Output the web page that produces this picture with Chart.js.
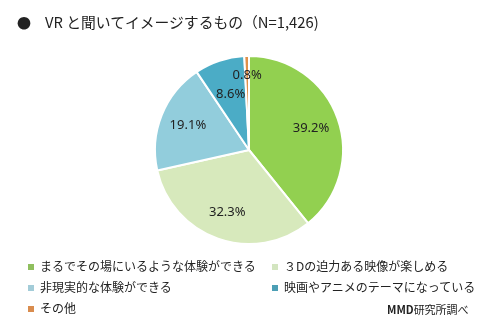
<!DOCTYPE html>
<html>
<head>
<meta charset="utf-8">
<script src="https://cdn.jsdelivr.net/npm/chart.js@4/dist/chart.umd.min.js"></script>
<style>
  body { margin: 0; background: #fff; }
  #wrap { position: relative; width: 487px; height: 328px; overflow: hidden;
          font-family: "Noto Sans CJK JP", "Noto Sans", sans-serif; color: #222; }
  #title { position: absolute; left: 17px; top: 11px; font-size: 14.8px; white-space: nowrap; }
  #title .dot { display: inline-block; width: 28px; font-size: 14px; }
  .leg { position: absolute; font-size: 12px; white-space: nowrap; line-height: 16px; }
  .leg i { display: inline-block; width: 6px; height: 6px; margin-right: 6px; vertical-align: 1px; }
  #src { position: absolute; left: 387px; top: 301px; font-size: 11px; white-space: nowrap; }
</style>
</head>
<body>
<div id="wrap">
  <canvas id="myChart" width="487" height="328"></canvas>
  <div id="title"><span class="dot">●</span>VR と聞いてイメージするもの（N=1,426)</div>
  <div id="src"><b>MMD</b>研究所調べ</div>
</div>
<script>
// Datos
var categorias = ["まるでその場にいるような体験ができる", "３Dの迫力ある映像が楽しめる", "非現実的な体験ができる", "映画やアニメのテーマになっている", "その他"];
var porcentajes = [39.2, 32.3, 19.1, 8.6, 0.8];
var colores = ["#92D050", "#D7E9BC", "#92CDDC", "#4BACC6", "#E0904A"];
var coloresLeyenda = ["#8FBF5E", "#D3E5C0", "#A3CCD8", "#4C9FB5", "#D98C4E"];

// posicion de la leyenda (columna, fila)
var posLeyenda = [[28, 258], [272, 258], [28, 279], [272, 279], [28, 300]];
categorias.forEach(function (c, i) {
  var d = document.createElement("div");
  d.className = "leg";
  d.style.left = posLeyenda[i][0] + "px";
  d.style.top = posLeyenda[i][1] + "px";
  d.innerHTML = '<i style="background:' + coloresLeyenda[i] + '"></i>' + c;
  document.getElementById("wrap").appendChild(d);
});

// etiquetas de porcentaje dentro del pastel
var radioEtiqueta = [0.7, 0.7, 0.7, 0.62, 0.8];
var etiquetas = {
  id: "etiquetas",
  afterDatasetsDraw: function (chart) {
    var ctx = chart.ctx;
    var meta = chart.getDatasetMeta(0);
    ctx.save();
    ctx.font = "13px 'Noto Sans', sans-serif";
    ctx.fillStyle = "#222";
    ctx.textAlign = "center";
    ctx.textBaseline = "middle";
    meta.data.forEach(function (arc, i) {
      var a = (arc.startAngle + arc.endAngle) / 2;
      var r = arc.outerRadius * radioEtiqueta[i];
      ctx.fillText(porcentajes[i].toFixed(1) + "%", arc.x + Math.cos(a) * r, arc.y + Math.sin(a) * r);
    });
    ctx.restore();
  }
};

var ctx = document.getElementById("myChart");
new Chart(ctx, {
  type: "pie",
  data: {
    labels: categorias,
    datasets: [{
      data: porcentajes,
      backgroundColor: colores,
      borderColor: "#fff",
      borderWidth: 2
    }]
  },
  options: {
    responsive: false,
    animation: false,
    layout: { padding: { top: 55, bottom: 83, left: 11, right: 0 } },
    plugins: { legend: { display: false }, tooltip: { enabled: false } }
  },
  plugins: [etiquetas]
});
</script>
</body>
</html>
